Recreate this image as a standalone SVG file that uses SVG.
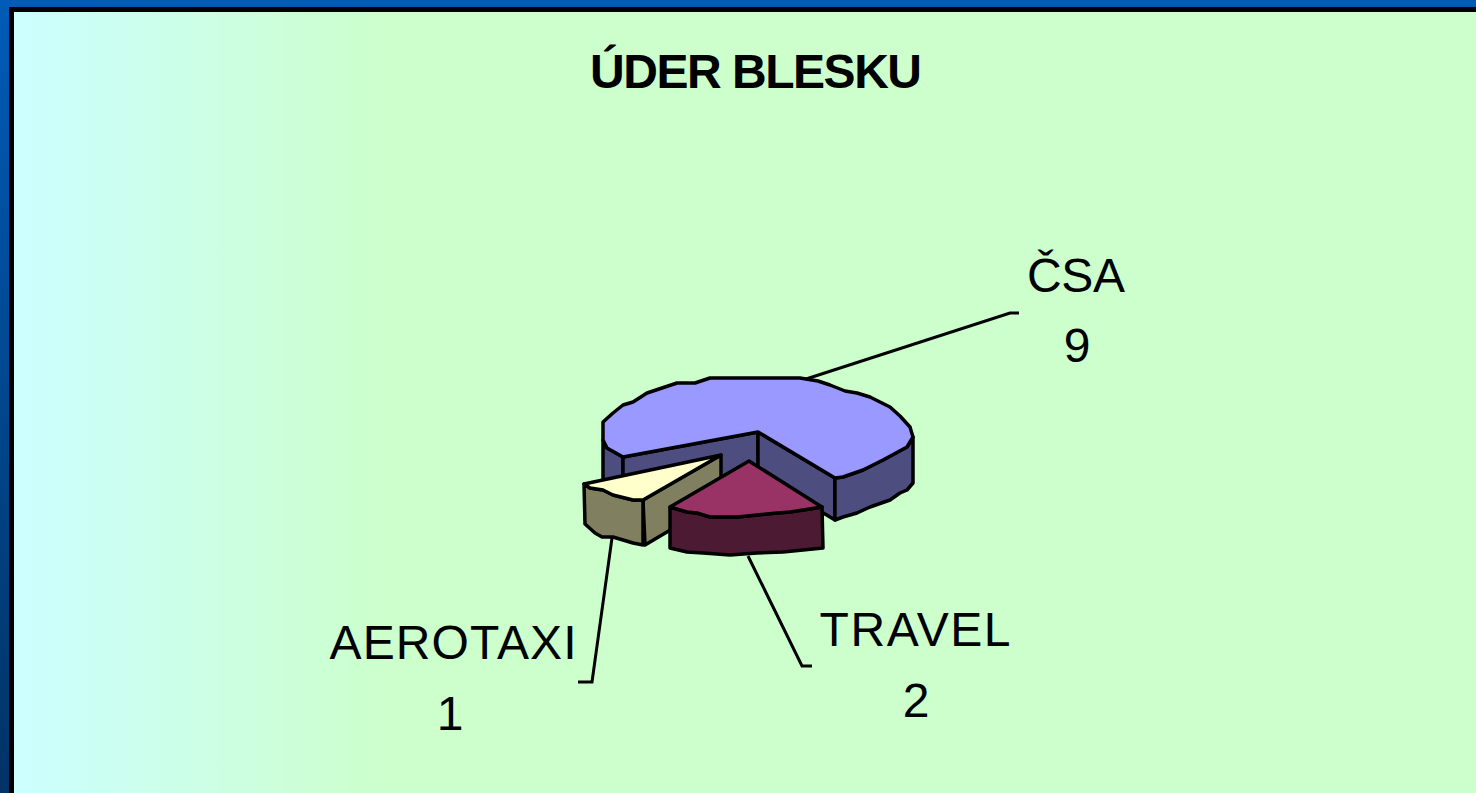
<svg xmlns="http://www.w3.org/2000/svg" width="1476" height="793" viewBox="0 0 1476 793">
<defs>
<linearGradient id="bg" gradientUnits="userSpaceOnUse" x1="14" y1="0" x2="380" y2="0">
<stop offset="0" stop-color="#CCFFFF"/>
<stop offset="1" stop-color="#CCFFCC"/>
</linearGradient>
<linearGradient id="frame" x1="0" y1="0" x2="0" y2="1">
<stop offset="0" stop-color="#005BB8"/>
<stop offset="1" stop-color="#003366"/>
</linearGradient>
<style>
.edge{stroke:#000;stroke-width:3.5;stroke-linejoin:round;stroke-linecap:round}
.lead{stroke:#000;stroke-width:3;fill:none}
.lbl{font-family:"Liberation Sans",Arial,sans-serif;font-size:48px;fill:#000;text-anchor:middle}
.title{font-family:"Liberation Sans",Arial,sans-serif;font-size:48px;font-weight:bold;fill:#000;text-anchor:middle}
.csaTop{fill:#9999FF}.csaSide{fill:#4D4D80}
.aeroTop{fill:#FFFFCC}.aeroSide{fill:#808060}
.travTop{fill:#993366}.travSide{fill:#4D1A33}
</style>
</defs>
<g id="background">
<rect x="0" y="0" width="1476" height="793" fill="url(#frame)"/>
<rect x="0" y="0" width="1476" height="7" fill="#005BB8"/>
<rect x="9" y="7" width="1467" height="786" fill="#000"/>
<rect x="14" y="12" width="1462" height="781" fill="url(#bg)"/>
</g>
<g id="title">
<text class="title" x="756" y="88" textLength="332">ÚDER BLESKU</text>
</g>
<g id="connectors">
<polyline class="lead" points="803,380 1010,313 1019,313"/>
<polyline class="lead" points="612,538 592,682 578,682"/>
<polyline class="lead" points="748,556 802,666 812,666"/>
</g>
<g id="csa">
<path class="csaSide edge" d="M603,440 L607,448 L623,457 L623,499 L603,490 Z"/>
<path class="csaSide edge" d="M623,457 L758,432 L758,474 L623,499 Z"/>
<path class="csaSide edge" d="M758,432 L835,478 L835,520 L758,474 Z"/>
<path class="csaSide edge" d="M835,478 L843,477 L863,470 L883,460 L907,447 L913,437 L913,483 L907,490 L900,493 L890,500 L870,507 L857,513 L843,517 L835,520 Z"/>
<path class="csaTop edge" d="M603,422 L613,413 L623,405 L633,402 L647,393 L665,387 L677,383 L695,383 L710,378 L800,378 L818,381 L830,385 L845,391 L857,393 L870,397 L890,407 L900,416 L910,427 L913,437 L907,447 L883,460 L863,470 L843,477 L835,478 L758,432 L623,457 L607,448 L603,440 Z"/>
<text class="lbl" x="1076" y="292" textLength="98">ČSA</text>
<text class="lbl" x="1077" y="362">9</text>
</g>
<g id="aerotaxi">
<path class="aeroSide edge" d="M643,500 L721,455 L721,500 L645,545 Z"/>
<path class="aeroSide edge" d="M584,484 L590,488 L603,490 L613,495 L633,500 L643,500 L643,545 L633,543 L613,537 L602,537 L595,533 L585,524 Z"/>
<path class="aeroTop edge" d="M584,484 L721,455 L643,500 L633,500 L613,495 L603,490 L590,488 Z"/>
<text class="lbl" x="453" y="659" textLength="247">AEROTAXI</text>
<text class="lbl" x="450" y="730">1</text>
</g>
<g id="travel">
<path class="travSide edge" d="M670,507 L687,512 L697,513 L710,517 L737,517 L757,515 L777,513 L790,512 L803,510 L822,507 L823,548 L803,550 L783,552 L757,553 L730,555 L703,553 L687,552 L670,548 Z"/>
<path class="travTop edge" d="M749,461 L822,507 L803,510 L790,512 L777,513 L757,515 L737,517 L710,517 L697,513 L687,512 L670,507 Z"/>
<text class="lbl" x="915" y="646" textLength="191">TRAVEL</text>
<text class="lbl" x="916" y="717">2</text>
</g>
</svg>
